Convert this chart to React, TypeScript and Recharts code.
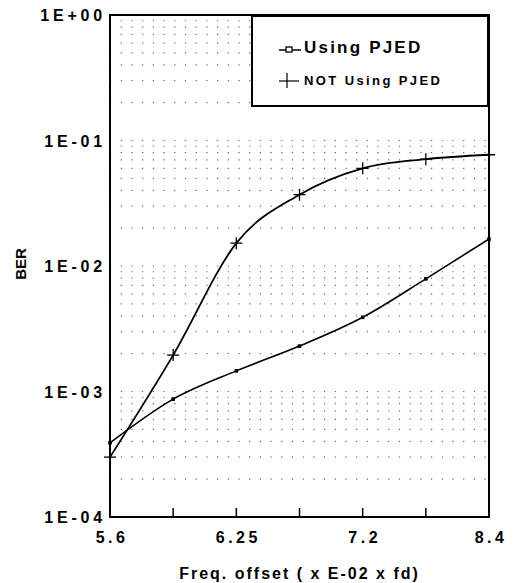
import React from 'react';
import { LineChart, Line, XAxis, YAxis, CartesianGrid, ReferenceArea, Legend } from 'recharts';

// x positions are evenly spaced; only some carry a label
const xLabels = ['5.6', '', '6.25', '', '7.2', '', '8.4'];
const usingPjed = [3.9e-4, 8.7e-4, 1.46e-3, 2.3e-3, 3.9e-3, 7.9e-3, 1.64e-2];
const notUsingPjed = [3.0e-4, 1.95e-3, 1.52e-2, 3.7e-2, 6.0e-2, 7.1e-2, 7.7e-2];

const decades = [1e-4, 1e-3, 1e-2, 1e-1, 1];
const decadeLabels = ['1E-04', '1E-03', '1E-02', '1E-01', '1E+00'];
const minorSteps = [1, 2, 3, 4, 5, 6, 7, 8, 9];

const yTicks: number[] = [];
decades.forEach((d, i) => {
    if (i === decades.length - 1) {
        yTicks.push(d);
    } else {
        minorSteps.forEach((m) => yTicks.push(+(d * m).toPrecision(3)));
    }
});

const data = xLabels.map((_, i) => ({
    x: i,
    pjed: usingPjed[i],
    nopjed: notUsingPjed[i],
}));

const FONT = '"Liberation Sans", Arial, sans-serif';

const formatY = (v: number) => {
    const idx = decades.findIndex((d) => Math.abs(d - v) / d < 1e-6);
    return idx >= 0 ? decadeLabels[idx] : '';
};

const XTick = (props: any) => {
    const { x, y, payload } = props;
    const label = xLabels[payload.value];
    const showTick = payload.value > 0 && payload.value < xLabels.length - 1;
    return (
        <g>
            {showTick && <line x1={x} x2={x} y1={y} y2={y - 9} stroke="#000" strokeWidth={1.5} />}
            <text
                x={x + 2}
                y={y + 26}
                textAnchor="middle"
                fontFamily={FONT}
                fontWeight="bold"
                fontSize={16}
                letterSpacing={3.5}
                fill="#000"
            >
                {label}
            </text>
        </g>
    );
};

const YTick = (props: any) => {
    const { x, y, payload } = props;
    const label = formatY(payload.value);
    if (!label) return null;
    return (
        <text
            x={x - 4}
            y={y + 6}
            textAnchor="end"
            fontFamily={FONT}
            fontWeight="bold"
            fontSize={16}
            letterSpacing={3.8}
            fill="#000"
        >
            {label}
        </text>
    );
};

const PlusDot = (props: any) => {
    const { cx, cy } = props;
    if (cx == null || cy == null) return null;
    return (
        <g>
            <line x1={cx - 6} x2={cx + 6} y1={cy} y2={cy} stroke="#000" strokeWidth={1.3} />
            <line x1={cx} x2={cx} y1={cy - 6} y2={cy + 6} stroke="#000" strokeWidth={1.3} />
        </g>
    );
};

const SmallDot = (props: any) => {
    const { cx, cy } = props;
    if (cx == null || cy == null) return null;
    return <rect x={cx - 1.8} y={cy - 1.8} width={3.6} height={3.6} fill="#000" />;
};

const LegendBox = () => (
    <div
        style={{
            position: 'absolute',
            left: 251,
            top: 15,
            width: 238,
            height: 92,
            boxSizing: 'border-box',
            border: '2px solid #000',
            background: '#fff',
            fontFamily: FONT,
            fontWeight: 'bold',
            color: '#000',
        }}
    >
        <svg width={30} height={80} style={{ position: 'absolute', left: 24, top: 14 }}>
            <line x1={2} x2={24} y1={19} y2={19} stroke="#000" strokeWidth={1.5} />
            <rect x={9} y={16} width={6} height={5} fill="#fff" stroke="#000" strokeWidth={1.3} />
            <line x1={2} x2={22} y1={50} y2={50} stroke="#000" strokeWidth={1.2} />
            <line x1={10} x2={10} y1={42} y2={57} stroke="#000" strokeWidth={1.2} />
        </svg>
        <div style={{ position: 'absolute', left: 51, top: 21, fontSize: 17, letterSpacing: 2.2, lineHeight: '20px' }}>
            Using PJED
        </div>
        <div style={{ position: 'absolute', left: 51, top: 55, fontSize: 13, letterSpacing: 2.4, lineHeight: '18px' }}>
            NOT Using PJED
        </div>
    </div>
);

const YLabel = () => (
    <text
        x={20}
        y={264}
        transform="rotate(-90 20 264)"
        textAnchor="middle"
        dominantBaseline="central"
        fontFamily={FONT}
        fontWeight="bold"
        fontSize={15}
        fill="#000"
    >
        BER
    </text>
);

export default function App() {
    return (
        <div style={{ position: 'absolute', left: 0, top: 0, width: 514, height: 583, background: '#fff' }}>
            <LineChart
                width={514}
                height={583}
                data={data}
                margin={{ top: 15, right: 25, bottom: 0, left: 0 }}
            >
                <CartesianGrid
                    vertical={false}
                    stroke="#666"
                    strokeWidth={1.2}
                    strokeDasharray="1.2 9.5"
                />
                <XAxis
                    dataKey="x"
                    type="number"
                    domain={[0, xLabels.length - 1]}
                    ticks={xLabels.map((_, i) => i)}
                    interval={0}
                    height={66}
                    tickSize={0}
                    tickMargin={0}
                    tickLine={false}
                    axisLine={{ stroke: '#000', strokeWidth: 2 }}
                    tick={<XTick />}
                    label={{
                        value: 'Freq. offset ( x E-02 x fd)',
                        position: 'insideBottom',
                        offset: 4,
                        style: {
                            fontFamily: FONT,
                            fontWeight: 'bold',
                            fontSize: 16,
                            letterSpacing: 2,
                            fill: '#000',
                        },
                    }}
                />
                <YAxis
                    type="number"
                    scale="log"
                    domain={[1e-4, 1]}
                    allowDataOverflow
                    ticks={yTicks}
                    interval={0}
                    width={110}
                    tickSize={0}
                    tickMargin={0}
                    tickLine={false}
                    axisLine={{ stroke: '#000', strokeWidth: 2 }}
                    tick={<YTick />}
                    label={<YLabel />}
                />
                <ReferenceArea
                    x1={0}
                    x2={xLabels.length - 1}
                    y1={1e-4}
                    y2={1}
                    fill="none"
                    stroke="#000"
                    strokeWidth={2}
                    fillOpacity={0}
                />
                <Line
                    type="monotone"
                    dataKey="nopjed"
                    name="NOT Using PJED"
                    stroke="#000"
                    strokeWidth={1.8}
                    dot={<PlusDot />}
                    activeDot={false}
                    isAnimationActive={false}
                />
                <Line
                    type="monotone"
                    dataKey="pjed"
                    name="Using PJED"
                    stroke="#000"
                    strokeWidth={1.6}
                    dot={<SmallDot />}
                    activeDot={false}
                    isAnimationActive={false}
                />
                <Legend
                    verticalAlign="middle"
                    align="center"
                    layout="horizontal"
                    wrapperStyle={{ position: 'absolute', left: 0, top: 0, width: 0, height: 0 }}
                    content={() => <LegendBox />}
                />
            </LineChart>
        </div>
    );
}
